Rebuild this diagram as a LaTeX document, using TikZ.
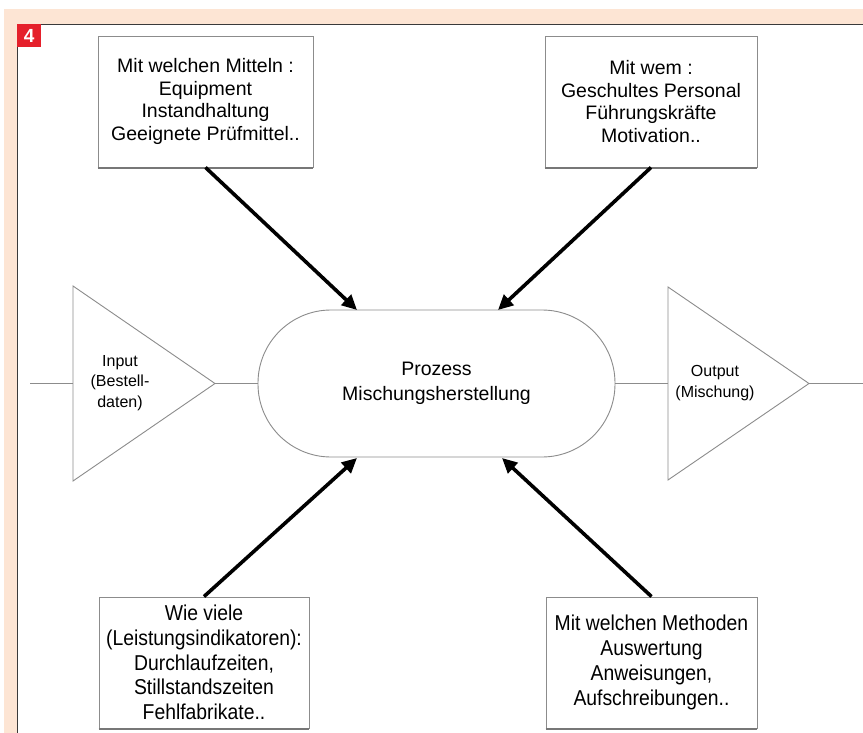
\documentclass[tikz,border=0pt]{standalone}
\usepackage{fontspec}
\setmainfont{Liberation Sans}
\newfontfamily\condfont[FakeStretch=0.9]{Liberation Sans}
\usetikzlibrary{arrows.meta}
\definecolor{peach}{HTML}{FDE5D4}
\definecolor{badge}{HTML}{E5202B}
\definecolor{shapeline}{HTML}{8C8C8C}
\definecolor{frameline}{HTML}{3A3A3A}
\tikzset{
  infobox/.style={draw=shapeline, line width=0.9pt, fill=white, inner sep=0pt, align=center,
    font=\fontsize{19.5}{22.6}\selectfont},
  lowbox/.style={infobox, font=\condfont\fontsize{21.5}{24.8}\selectfont},
  procbox/.style={draw=shapeline, line width=0.9pt, rounded corners=73pt, inner sep=0pt,
    minimum width=357pt, minimum height=147pt, align=center,
    font=\fontsize{19.5}{24.5}\selectfont},
  tri/.style={draw=shapeline, line width=0.9pt},
  thin/.style={draw=shapeline, line width=0.9pt},
  trilabel/.style={align=center, inner sep=0pt, font=\fontsize{16}{20.5}\selectfont},
  bigarrow/.style={line width=3.6pt, -{Triangle[length=15pt,width=14pt]}, black},
}
\begin{document}
\begin{tikzpicture}[x=1pt,y=-1pt]
\useasboundingbox (0,0) rectangle (863,733);
\fill[white] (0,0) rectangle (863,733);
% frame
\fill[peach] (4,9) rectangle (863,24);
\fill[peach] (4,9) rectangle (17,733);
\draw[frameline, line width=1.4pt] (17.6,733) -- (17.6,24.6) -- (863,24.6);
\node[fill=badge, minimum width=24pt, minimum height=23pt, inner sep=0pt, anchor=north west,
  text=white, font=\bfseries\fontsize{19}{19}\selectfont] (badge) at (17,24) {4};

% boxes
\node[infobox, minimum width=215pt, minimum height=131pt] (tl) at (205.5,101.5)
  {Mit welchen Mitteln :\\Equipment\\Instandhaltung\\Geeignete Prüfmittel..};
\node[infobox, minimum width=212pt, minimum height=131pt] (tr) at (651,101.5)
  {Mit wem :\\Geschultes Personal\\Führungskräfte\\Motivation..};
\node[lowbox, minimum width=210pt, minimum height=131pt] (bl) at (204,662.5)
  {Wie viele\\(Leistungsindikatoren):\\Durchlaufzeiten,\\Stillstandszeiten\\Fehlfabrikate..};
\node[lowbox, minimum width=211pt, minimum height=131pt] (br) at (651.5,662.5)
  {Mit welchen Methoden\\Auswertung\\Anweisungen,\\Aufschreibungen..};
\foreach \b in {tl,tr,bl,br}{
  \draw[shapeline!85!black, line width=1.6pt] ([yshift=-0.6pt]\b.south west) -- ([yshift=-0.6pt]\b.south east);
}

% process
\node[procbox] (proc) at (436.5,383.5) {Prozess\\Mischungsherstellung};

% input triangle
\coordinate (inA) at (73,286);
\coordinate (inB) at (73,481);
\coordinate (inT) at (215,383.5);
\draw[tri] (inA) -- (inT) -- (inB) -- cycle;
\node[trilabel] (inlabel) at (120,383) {Input\\(Bestell-\\daten)};
\coordinate (inStart) at (30,383.5);
\draw[thin] (inStart) -- (inA |- inT);
\draw[thin] (inT) -- (proc.west);

% output triangle
\coordinate (outA) at (668,287);
\coordinate (outB) at (668,480);
\coordinate (outT) at (809,383.5);
\draw[tri] (outA) -- (outT) -- (outB) -- cycle;
\node[trilabel] (outlabel) at (715,383) {Output\\(Mischung)};
\coordinate (outEnd) at (863,383.5);
\draw[thin] (proc.east) -- (outA |- outT);
\draw[thin] (outT) -- (outEnd);

% arrows
\coordinate (pTL) at (357,310);
\coordinate (pTR) at (498,310);
\coordinate (pBL) at (357,458);
\coordinate (pBR) at (502,458);
\draw[bigarrow] (tl.south) -- (pTL);
\draw[bigarrow] (tr.south) -- (pTR);
\draw[bigarrow] (bl.north) -- (pBL);
\draw[bigarrow] (br.north) -- (pBR);
\end{tikzpicture}
\end{document}
